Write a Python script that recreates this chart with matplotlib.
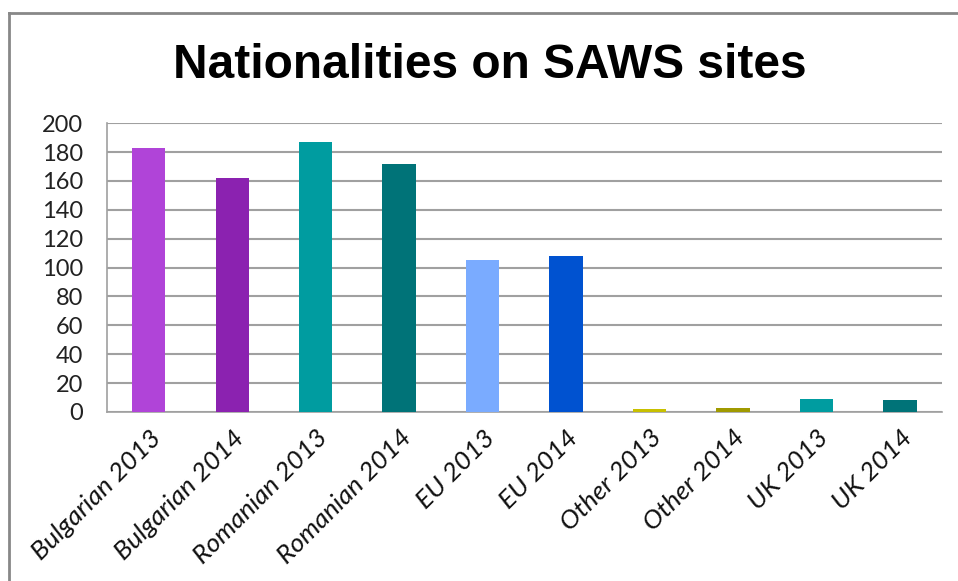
import matplotlib
matplotlib.use("Agg")
from matplotlib import pyplot as plt
from matplotlib.lines import Line2D

# Data for the plot
categories = ["Bulgarian 2013", "Bulgarian 2014", "Romanian 2013", "Romanian 2014",
              "EU 2013", "EU 2014", "Other 2013", "Other 2014", "UK 2013", "UK 2014"]
counts = [183, 162, 187, 172, 105, 108, 2, 3, 9, 8]
bar_colors = ["#B044D8", "#8B22B0", "#009CA0", "#007378", "#7AABFF",
              "#0052D0", "#C8C000", "#A09A00", "#009CA0", "#007378"]
y_ticks = [0, 20, 40, 60, 80, 100, 120, 140, 160, 180, 200]

fig = plt.figure(figsize=(9.58, 5.81), dpi=100)
ax = fig.add_axes([0.1117, 0.2909, 0.8713, 0.4971])

x = range(len(categories))
ax.bar(x, counts, width=0.4, color=bar_colors, zorder=3)

ax.set_xlim(-0.5, len(categories) - 0.5)
ax.set_ylim(0, 200)
ax.set_yticks(y_ticks)
ax.set_yticklabels([str(v) for v in y_ticks], fontsize=17, family="Lato", color="#222222")
ax.set_xticks(list(x))
ax.set_xticklabels(categories, rotation=45, ha="right", rotation_mode="anchor",
                   fontsize=19, family="Lato", style="italic", color="#111111")
ax.tick_params(axis="x", length=0, pad=10)
ax.tick_params(axis="y", length=0, pad=17)

# Grid and spines
ax.grid(axis="y", color="#A0A0A0", linewidth=1.5, zorder=0)
for side in ["top", "right"]:
    ax.spines[side].set_visible(False)
for side in ["left", "bottom"]:
    ax.spines[side].set_color("#A0A0A0")
    ax.spines[side].set_linewidth(1.2)

fig.text(0.511, 0.887, "Nationalities on SAWS sites", ha="center", va="center",
         fontsize=34.5, fontweight="bold", family="Liberation Sans")

# Chart border (top and left edges only visible)
fig.add_artist(Line2D([9 / 958, 9 / 958], [0, 1 - 13 / 581], transform=fig.transFigure,
                      color="#888888", linewidth=2))
fig.add_artist(Line2D([9 / 958, 1], [1 - 13 / 581, 1 - 13 / 581], transform=fig.transFigure,
                      color="#888888", linewidth=2))

fig.savefig("out.png", dpi=100)
